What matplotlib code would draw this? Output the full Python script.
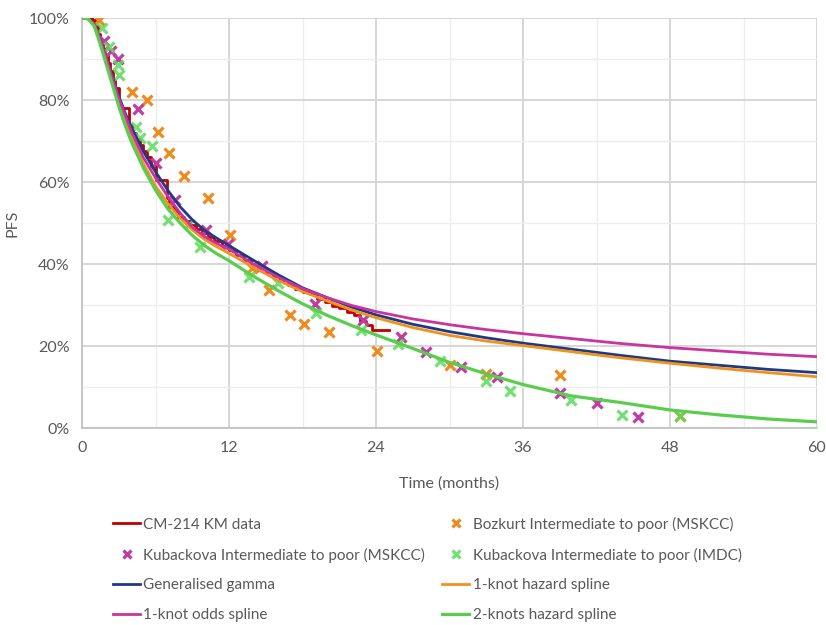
import matplotlib
matplotlib.use("Agg")
import matplotlib.pyplot as plt
from matplotlib.ticker import MultipleLocator, FuncFormatter

plt.rcParams['font.family'] = ['Lato', 'DejaVu Sans']

# ---- data (PFS in %) ----
km_t = [0, 0.8, 1.1, 1.3, 1.5, 1.7, 1.9, 2.1, 2.3, 2.5, 2.7, 3.0, 3.8, 4.1, 4.4, 4.7, 5.0, 5.3, 5.6,
        6.0, 6.9, 7.1, 7.5, 7.8, 8.3, 8.8, 9.3, 9.8, 10.3, 10.8, 11.4, 12.0, 12.6, 13.2, 13.8, 14.4,
        15.0, 15.6, 16.2, 16.8, 17.4, 18.0, 18.6, 19.2, 19.8, 20.4, 21.0, 21.6, 22.2, 22.7, 23.2, 23.7, 25.1]
km_s = [100, 99.5, 98, 96, 94, 92.5, 91, 89, 87, 85, 83, 78, 74, 72, 70.5, 69, 67.5, 66, 64,
        60.5, 56, 54, 53, 51.5, 50.5, 49.5, 48.5, 47.5, 46.5, 45.5, 44.5, 43.3, 42.3, 41, 40, 39,
        38, 37, 36, 35, 34, 33.2, 32.6, 31.5, 30.8, 29.8, 29.3, 28.2, 27.5, 26.0, 25.2, 24.0, 24.0]

boz_t = [1.4, 4.1, 5.3, 6.2, 7.1, 8.3, 10.3, 12.1, 13.9, 15.3, 17.0, 18.1, 20.2, 24.1, 30.0, 33.0, 39.0, 48.8]
boz_s = [99.5, 82, 80, 72.3, 67, 61.4, 56.2, 47.1, 39, 33.7, 27.6, 25.4, 23.3, 18.8, 15.4, 13.2, 12.9, 3.0]

kubm_t = [1.8, 2.4, 2.9, 4.6, 6.0, 7.6, 10.1, 11.9, 14.7, 19.0, 22.9, 26.0, 28.1, 30.9, 33.9, 39.0, 42.0, 45.4]
kubm_s = [94.5, 92, 90, 77.7, 64.6, 55.7, 48.3, 44.9, 39.5, 30.2, 26.3, 22.3, 18.6, 15.0, 12.4, 8.5, 6.2, 2.8]

kubi_t = [1.6, 2.2, 2.9, 3.0, 4.4, 4.7, 5.7, 7.0, 8.7, 9.6, 13.6, 16.0, 19.1, 22.8, 25.8, 29.2, 33.0, 34.9,
          39.9, 44.1, 48.8]
kubi_s = [97.5, 93, 88.5, 86, 73.5, 70.7, 68.8, 50.7, 49.8, 44.1, 36.8, 35.3, 28.1, 23.9, 20.5, 16.4, 11.4, 9.1,
          6.8, 3.2, 3.0]

fit_t = [0, 0.5, 1, 1.5, 2, 2.5, 3, 3.5, 4, 5, 6, 7, 8, 9, 10, 11, 12, 14, 16, 18, 20, 22, 24,
         27, 30, 33, 36, 40, 44, 48, 52, 56, 60]
gengamma = [100, 99.8, 98.5, 94.5, 90, 85.5, 81, 77, 73.5, 67.5, 62.5, 58, 54, 50.8, 48.2, 46.3, 44.5,
            40.9, 37.4, 34.2, 31.8, 29.5, 27.6, 25.3, 23.5, 22.0, 20.7, 19.2, 17.7, 16.3, 15.3, 14.3, 13.5]
odds1 = [100, 99.8, 98.5, 94.5, 90, 85, 80.5, 76.5, 72.5, 66, 61, 56.5, 52.5, 49, 46.7, 45.0, 43.6,
         40.0, 36.8, 34.0, 31.8, 29.9, 28.4, 26.6, 25.2, 24.0, 23.0, 21.8, 20.6, 19.6, 18.8, 18.0, 17.4]
hazard1 = [100, 99.8, 98.3, 94, 89.5, 84.5, 79.5, 75, 71, 64.5, 59, 54.8, 51.2, 48.3, 46, 44.2, 42.6,
           39.2, 36.0, 33.3, 31.0, 28.8, 26.9, 24.5, 22.6, 21.2, 20.1, 18.6, 17.1, 15.8, 14.6, 13.5, 12.5]
hazard2 = [100, 99.8, 98, 93.5, 88.5, 83.5, 78.5, 74, 70, 63.5, 58, 53.5, 50, 47, 44.5, 42.5, 40.8,
           37.0, 33.5, 30.3, 27.5, 25.0, 22.7, 19.4, 16.0, 13.2, 10.6, 7.8, 6.2, 4.4, 3.2, 2.2, 1.5]

# ---- colours ----
c_red = '#C00000'
c_orange_m = '#EE8A1E'
c_mag = '#C23BA3'
c_green_m = '#5BDB5B'
c_blue = '#1F3A85'
c_orange = '#F0921E'
c_mag_l = '#C8359E'
c_green = '#5ACD4E'
c_text = '#595959'

fig = plt.figure(figsize=(8.26, 6.25), dpi=100)
ax = fig.add_axes([82 / 826, 1 - 428 / 625, (817 - 82) / 826, (428 - 18) / 625])

lw = 2.0
ms = 7.5
mew = 2.3
h_km, = ax.plot(km_t, km_s, color=c_red, lw=lw, drawstyle='steps-post', zorder=3, label='CM-214 KM data')
h_boz, = ax.plot(boz_t, boz_s, ls='none', marker='x', ms=ms, mew=mew, color=c_orange_m, zorder=4,
                 label='Bozkurt Intermediate to poor (MSKCC)')
h_kubm, = ax.plot(kubm_t, kubm_s, ls='none', marker='x', ms=ms, mew=mew, color=c_mag, zorder=4,
                  label='Kubackova Intermediate to poor (MSKCC)')
h_kubi, = ax.plot(kubi_t, kubi_s, ls='none', marker='x', ms=ms, mew=mew, color=c_green_m, zorder=4,
                  alpha=0.85, label='Kubackova Intermediate to poor (IMDC)')
h_gg, = ax.plot(fit_t, gengamma, color=c_blue, lw=lw, zorder=5, label='Generalised gamma')
h_h1, = ax.plot(fit_t, hazard1, color=c_orange, lw=lw, zorder=5, label='1-knot hazard spline')
h_o1, = ax.plot(fit_t, odds1, color=c_mag_l, lw=lw, zorder=5, label='1-knot odds spline')
h_h2, = ax.plot(fit_t, hazard2, color=c_green, lw=lw + 0.3, zorder=5, label='2-knots hazard spline')

ax.set_xlim(0, 60)
ax.set_ylim(0, 100)
ax.xaxis.set_major_locator(MultipleLocator(12))
ax.xaxis.set_minor_locator(MultipleLocator(6))
ax.yaxis.set_major_locator(MultipleLocator(20))
ax.yaxis.set_minor_locator(MultipleLocator(10))
ax.yaxis.set_major_formatter(FuncFormatter(lambda v, p: f"{int(round(v))}%"))
ax.grid(which='major', color='#D6D6D6', lw=1.4)
ax.grid(which='minor', color='#EDEDED', lw=1.0)
ax.set_axisbelow(True)
for s in ['top', 'right']:
    ax.spines[s].set_visible(False)
for s in ['left', 'bottom']:
    ax.spines[s].set_color('#BFBFBF')
    ax.spines[s].set_linewidth(1.2)
ax.tick_params(which='both', length=0, colors=c_text, labelsize=11.5, pad=9)
ax.set_xlabel('Time (months)', color=c_text, fontsize=11.5)
ax.set_ylabel('PFS', color=c_text, fontsize=11.5)
ax.xaxis.set_label_coords(0.5, -0.118)
ax.yaxis.set_label_coords(-(82 - 19) / 735, 0.5)

handles = [h_km, h_kubm, h_gg, h_o1, h_boz, h_kubi, h_h1, h_h2]
leg = fig.legend(handles=handles, labels=[h.get_label() for h in handles], ncol=2,
                 loc='upper left', bbox_to_anchor=(99 / 826, 1 - 503 / 625), frameon=False,
                 fontsize=11, labelcolor=c_text, handlelength=1.8, handletextpad=0.2,
                 columnspacing=1.1, labelspacing=1.03, markerscale=0.8)

fig.savefig('out.png', dpi=100)
